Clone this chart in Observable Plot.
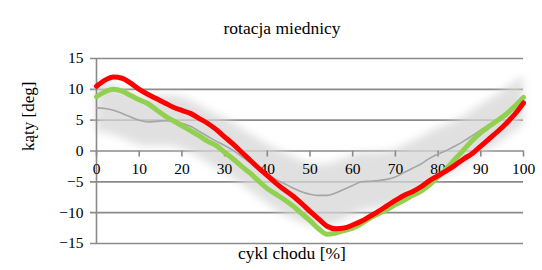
<!DOCTYPE html>
<html><head><meta charset="utf-8">
<script src="https://cdn.jsdelivr.net/npm/d3@7"></script>
<script src="https://cdn.jsdelivr.net/npm/@observablehq/plot@0.6"></script>
<style>body{margin:0;background:#fff} svg{display:block}</style>
</head><body><div id="chart"></div>
<script>
const title = "rotacja miednicy";
const xTitle = "cykl chodu [%]";
const yTitle = "kąty [deg]";
const pct   = [0,2,4,6,8,10,12,14,16,18,20,22,24,26,28,30,32,34,36,38,40,42,44,46,48,50,52,54,56,58,60,62,64,66,68,70,72,74,76,78,80,82,84,86,88,90,92,94,96,98,100];
const red   = [10.5,11.5,12.0,11.8,11.0,10.0,9.2,8.5,7.8,7.1,6.6,6.1,5.3,4.5,3.5,2.3,1.1,-0.2,-1.5,-2.8,-4.0,-5.2,-6.3,-7.3,-8.5,-9.8,-11.0,-12.2,-12.6,-12.5,-12.0,-11.4,-10.6,-9.8,-8.9,-8.0,-7.2,-6.6,-5.8,-4.8,-4.0,-3.2,-2.3,-1.3,-0.4,0.8,2.0,3.2,4.5,6.0,7.8];
const green = [8.8,9.6,10.0,9.7,9.0,8.3,7.7,6.7,5.7,4.9,4.1,3.3,2.5,1.6,0.9,-0.2,-1.3,-2.5,-3.6,-4.9,-6.1,-7.0,-7.9,-8.9,-10.1,-11.3,-12.6,-13.5,-13.3,-12.9,-12.5,-11.8,-10.9,-10.2,-9.5,-8.7,-8.0,-7.2,-6.5,-5.5,-4.2,-2.8,-1.3,0.2,1.7,3.0,4.0,5.0,6.0,7.3,8.7];
const norm  = [7.0,6.9,6.6,6.1,5.5,5.0,4.7,4.8,4.9,4.8,4.5,4.0,3.2,2.4,1.6,0.9,0.1,-0.9,-1.9,-2.8,-3.7,-4.6,-5.3,-6.0,-6.6,-7.0,-7.2,-7.2,-6.8,-6.2,-5.6,-5.0,-4.9,-4.8,-4.6,-4.2,-3.5,-2.8,-2.1,-1.2,-0.5,0.1,0.8,1.6,2.5,3.4,4.3,5.2,6.2,7.2,8.2];
const sd    = [4.0,4.0,4.0,4.0,4.0,4.0,4.0,4.0,4.1,4.1,4.2,4.2,4.2,4.3,4.3,4.4,4.4,4.5,4.6,4.7,4.8,4.9,5.0,5.0,5.0,5.0,5.0,5.0,5.0,4.9,4.8,4.7,4.6,4.5,4.5,4.4,4.4,4.3,4.3,4.2,4.2,4.1,4.1,4.0,4.0,4.0,4.0,4.0,4.0,4.0,4.0];
const xTicks = [0,10,20,30,40,50,60,70,80,90,100];
const yTicks = [-15,-10,-5,0,5,10,15];

const rows = pct.map((p,i)=>({p, red:red[i], green:green[i], norm:norm[i], lo:norm[i]-sd[i], hi:norm[i]+sd[i]}));
const font = "Liberation Serif";
const grid = "#8a8a8a";

const chart = Plot.plot({
  width:542, height:270,
  marginLeft:96, marginRight:19, marginTop:58, marginBottom:27,
  x:{domain:[0,100], axis:null},
  y:{domain:[-15,15], label:null},
  style:{fontFamily:font, background:"#fff", color:"#000"},
  marks:[
    Plot.ruleY(yTicks, {stroke:grid, strokeWidth:1.6, insetLeft:-6}),
    Plot.areaY(rows, {x:"p", y1:"lo", y2:"hi", fill:"#d6d6d6", fillOpacity:0.75, curve:"monotone-x"}),
    Plot.ruleX([0], {stroke:grid, strokeWidth:1.6}),
    Plot.ruleX(xTicks, {x:d=>d, y1:0, y2:0, insetBottom:-6, stroke:grid, strokeWidth:1.6}),
    Plot.text(xTicks, {x:d=>d, y:0, dy:18, text:d=>String(d), fontSize:15.5, fontFamily:font}),
    Plot.axisY(yTicks, {tickSize:0, tickPadding:13, fontSize:15.5, fontFamily:font, label:null}),
    Plot.line(rows, {x:"p", y:"norm", stroke:"#a5a5a5", strokeWidth:1.6, curve:"monotone-x"}),
    Plot.line(rows, {x:"p", y:"green", stroke:"#92d050", strokeWidth:5, curve:"monotone-x"}),
    Plot.line(rows, {x:"p", y:"red", stroke:"#ff0000", strokeWidth:5, curve:"monotone-x"}),
    Plot.text([title], {frameAnchor:"top", dx:-28, dy:-37, fontSize:17.5, fontFamily:font}),
    Plot.text([xTitle], {frameAnchor:"bottom", dx:-18, dy:15, fontSize:17.5, fontFamily:font}),
    Plot.text([yTitle], {frameAnchor:"left", dx:-68, rotate:-90, fontSize:17, fontFamily:font})
  ]
});
// soften the normative band like the reference
const ns = "http://www.w3.org/2000/svg";
const defs = document.createElementNS(ns, "defs");
const filt = document.createElementNS(ns, "filter");
filt.setAttribute("id", "bandBlur");
filt.setAttribute("x", "-10%"); filt.setAttribute("y", "-20%");
filt.setAttribute("width", "120%"); filt.setAttribute("height", "140%");
const gb = document.createElementNS(ns, "feGaussianBlur");
gb.setAttribute("stdDeviation", "4");
filt.appendChild(gb); defs.appendChild(filt);
chart.insertBefore(defs, chart.firstChild);
const areaG = chart.querySelector('g[aria-label="area"]');
if (areaG) areaG.setAttribute("filter", "url(#bandBlur)");
document.getElementById("chart").appendChild(chart);
</script>
</body></html>
